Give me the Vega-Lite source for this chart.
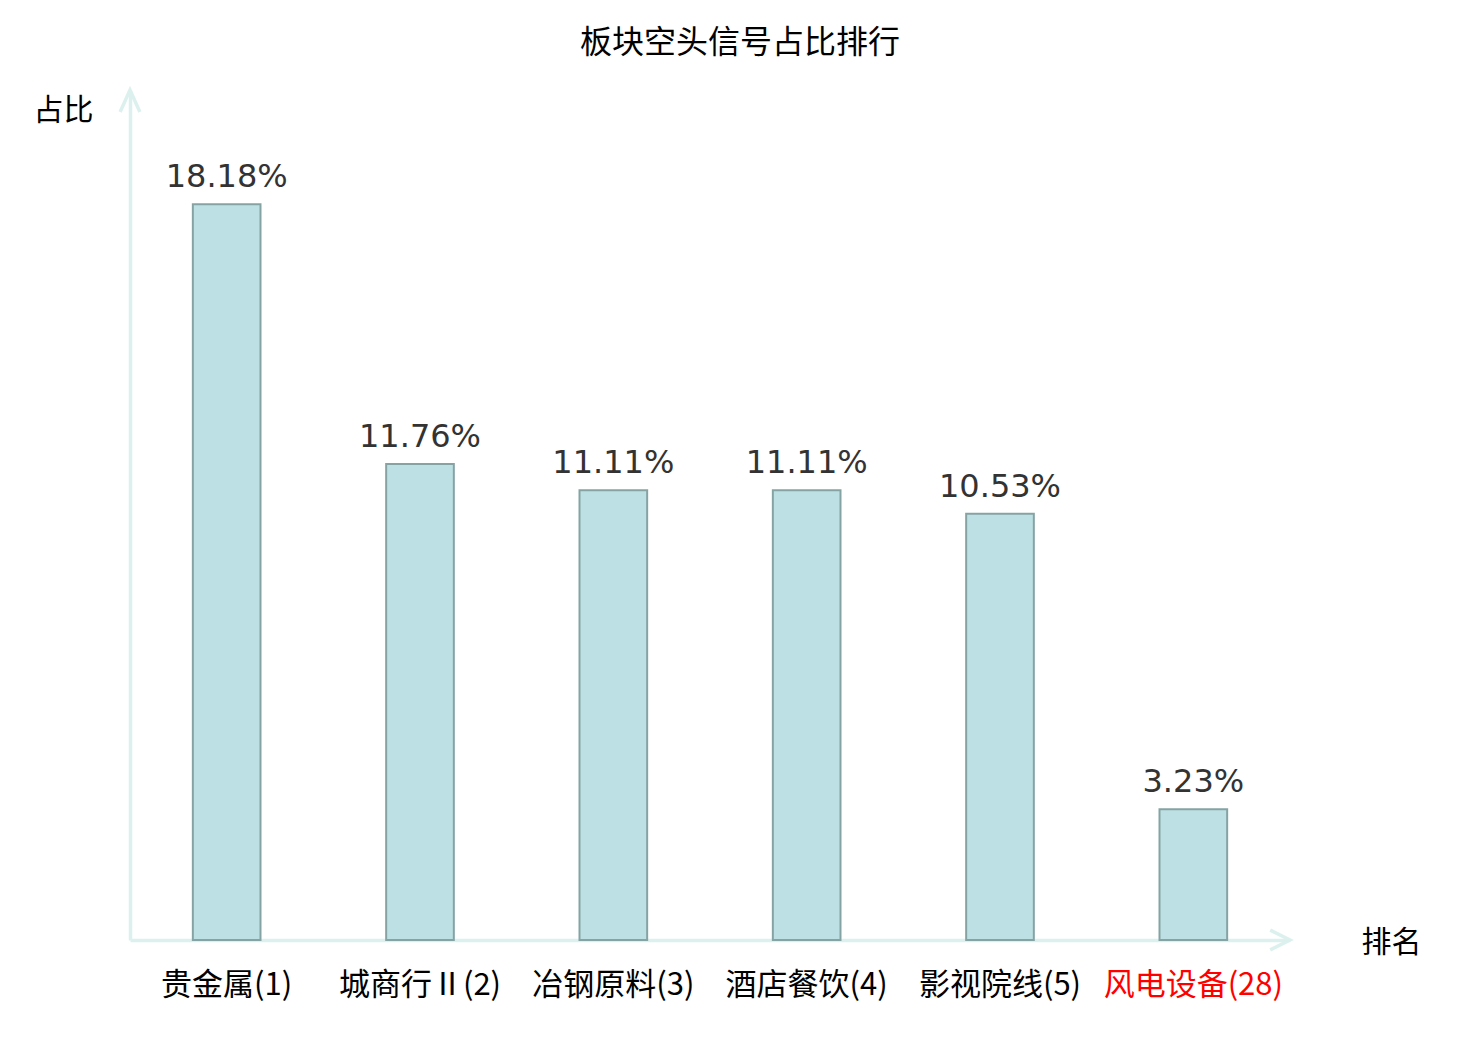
{
  "$schema": "https://vega.github.io/schema/vega-lite/v6.json",
  "autosize": "none",
  "width": 1160,
  "height": 850,
  "padding": {"left": 130, "top": 90, "right": 190, "bottom": 100},
  "background": "white",
  "config": {
    "view": {"stroke": null},
    "font": "Noto Sans CJK SC"
  },
  "title": {
    "text": "板块空头信号占比排行",
    "font": "Noto Sans CJK SC",
    "fontSize": 32,
    "fontWeight": "normal",
    "color": "#000000",
    "anchor": "middle",
    "dx": 30,
    "offset": 23
  },
  "resolve": {"scale": {"x": "independent"}},
  "layer": [
    {
      "data": {
        "values": [
          {"sector": "贵金属(1)", "pct": 18.18},
          {"sector": "城商行Ⅱ(2)", "pct": 11.76},
          {"sector": "冶钢原料(3)", "pct": 11.11},
          {"sector": "酒店餐饮(4)", "pct": 11.11},
          {"sector": "影视院线(5)", "pct": 10.53},
          {"sector": "风电设备(28)", "pct": 3.23}
        ]
      },
      "transform": [
        {"calculate": "format(datum.pct, '.2f') + '%'", "as": "label"}
      ],
      "encoding": {
        "x": {
          "field": "sector",
          "type": "nominal",
          "sort": null,
          "scale": {"paddingInner": 0, "paddingOuter": 0},
          "axis": {
            "title": "排名",
            "titleFont": "Noto Sans CJK SC",
            "titleFontSize": 30,
            "titleFontWeight": "normal",
            "titleColor": "#000000",
            "titleAngle": 0,
            "titleAlign": "center",
            "titleBaseline": "middle",
            "titleX": 1261,
            "titleY": 2,
            "labelFont": "Noto Sans CJK SC",
            "labelFontSize": 31,
            "labelAngle": 0,
            "labelPadding": 30,
            "labelLimit": 0,
            "labelOverlap": false,
            "labelColor": {
              "condition": {"test": "datum.value == '风电设备(28)'", "value": "#ff0000"},
              "value": "#000000"
            },
            "ticks": false,
            "grid": false,
            "domainColor": "#dcf1ee",
            "domainWidth": 3.5
          }
        },
        "y": {
          "field": "pct",
          "type": "quantitative",
          "scale": {"domain": [0, 21], "nice": false},
          "axis": {
            "title": "占比",
            "titleFont": "Noto Sans CJK SC",
            "titleFontSize": 30,
            "titleFontWeight": "normal",
            "titleColor": "#000000",
            "titleAngle": 0,
            "titleAlign": "center",
            "titleBaseline": "middle",
            "titleX": -67,
            "titleY": 20,
            "labels": false,
            "ticks": false,
            "grid": false,
            "domainColor": "#dcf1ee",
            "domainWidth": 3.5
          }
        }
      },
      "layer": [
        {
          "mark": {
            "type": "bar",
            "fill": "#bce0e3",
            "stroke": "#86a3a4",
            "strokeWidth": 2,
            "width": {"band": 0.35}
          }
        },
        {
          "mark": {
            "type": "text",
            "font": "DejaVu Sans",
            "fontSize": 32,
            "color": "#333333",
            "baseline": "alphabetic",
            "dy": -17
          },
          "encoding": {"text": {"field": "label"}}
        }
      ]
    },
    {
      "data": {"values": [{}]},
      "mark": {
        "type": "point",
        "filled": false,
        "opacity": 1,
        "stroke": "#dcf1ee",
        "strokeWidth": 3.5,
        "size": 1936,
        "shape": "M-0.45,1L0,0L0.45,1"
      },
      "encoding": {
        "x": {"datum": 0, "type": "quantitative", "scale": {"domain": [0, 1]}, "axis": null},
        "y": {"datum": 21, "type": "quantitative"}
      }
    },
    {
      "data": {"values": [{}]},
      "mark": {
        "type": "point",
        "filled": false,
        "opacity": 1,
        "stroke": "#dcf1ee",
        "strokeWidth": 3.5,
        "size": 1936,
        "shape": "M-0.9,-0.45L0,0L-0.9,0.45"
      },
      "encoding": {
        "x": {"datum": 1, "type": "quantitative", "scale": {"domain": [0, 1]}, "axis": null},
        "y": {"datum": 0, "type": "quantitative"}
      }
    }
  ]
}
